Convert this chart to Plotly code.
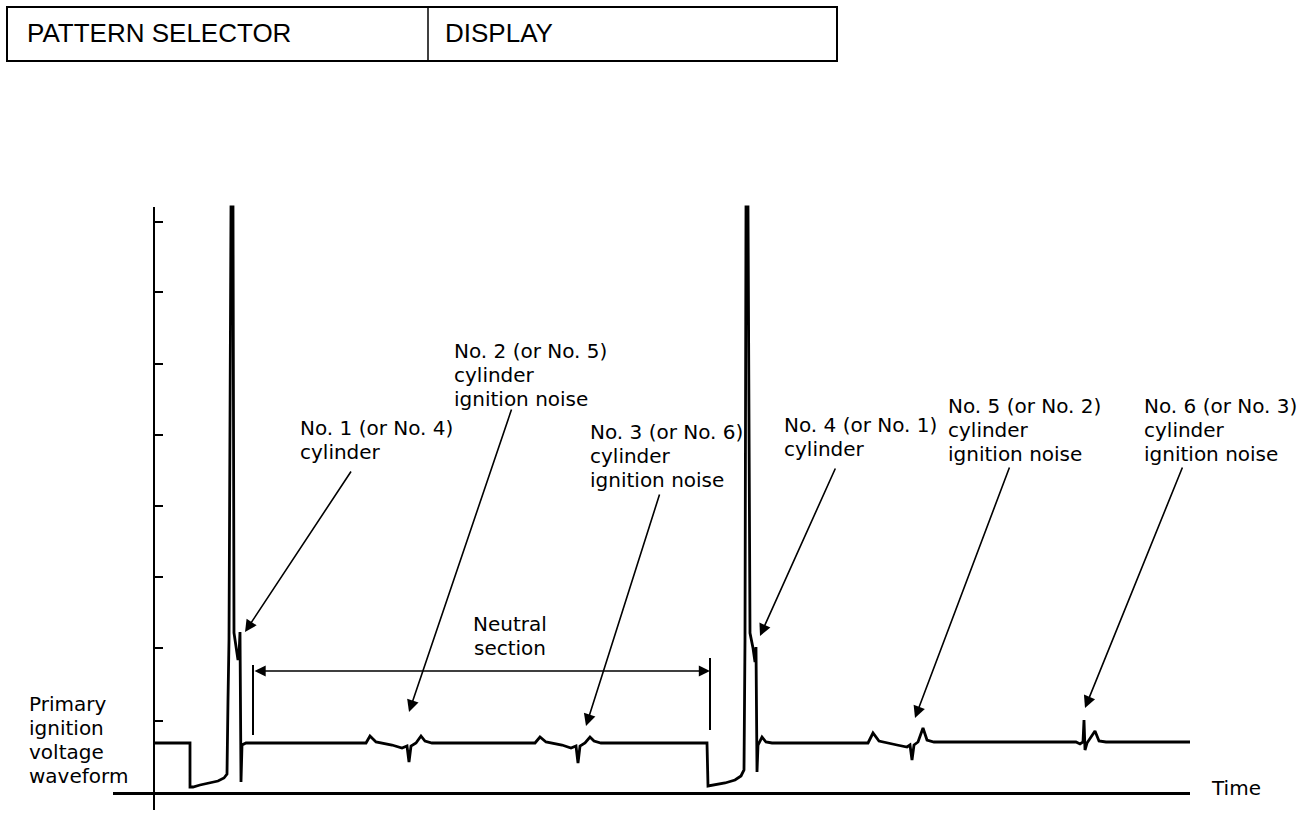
import plotly.graph_objects as go

# ---------------- data (time / voltage in arbitrary display units) ----------------
time = [0, 36, 36, 39, 46, 56, 64, 70, 73, 74, 75, 77, 79, 80, 82, 84, 85, 86, 87, 88, 92,
        212, 216, 222, 238, 248, 253, 255, 257, 262, 267, 271, 278,
        381, 386, 392, 408, 417, 422, 424, 426, 431, 436, 440, 447,
        553, 554, 561, 571, 581, 587, 590, 591, 592, 594, 596, 599, 601, 602, 603, 604, 608, 612, 618,
        714, 719, 725, 743, 753, 756, 758, 760, 764, 769, 773, 780,
        922, 926, 929, 930, 931, 933, 941, 945, 952, 1036]
voltage = [50, 50, 6, 6, 8, 10, 12, 15, 19, 93, 153, 586, 586, 160, 148, 133, 138, 161, 11, 48, 50,
           50, 57, 51, 48, 45, 47, 31, 47, 50, 57, 52, 50,
           50, 56, 51, 48, 45, 47, 30, 47, 50, 56, 52, 50,
           50, 7, 8, 10, 13, 17, 23, 153, 586, 586, 160, 145, 131, 146, 21, 48, 56, 51, 50,
           50, 60, 52, 48, 46, 48, 33, 48, 51, 65, 53, 51,
           51, 49, 51, 73, 43, 50, 62, 52, 51, 51]

voltage_ticks = [72, 145, 216, 287, 358, 429, 501, 571]

neutral_section = [99, 556]
neutral_marker_low = [58, 63]
neutral_marker_high = [128, 135]
neutral_arrow_level = 122

label_lines = [
    ["No. 1 (or No. 4)", "cylinder"],
    ["No. 2 (or No. 5)", "cylinder", "ignition noise"],
    ["No. 3 (or No. 6)", "cylinder", "ignition noise"],
    ["No. 4 (or No. 1)", "cylinder"],
    ["No. 5 (or No. 2)", "cylinder", "ignition noise"],
    ["No. 6 (or No. 3)", "cylinder", "ignition noise"],
]
label_target_time = [91, 255, 432, 606, 761, 931]
label_target_voltage = [161, 81, 67, 157, 75, 85]

y_title_lines = ["Primary", "ignition", "voltage", "waveform"]
neutral_lines = ["Neutral", "section"]
x_title = "Time"
table_cells = ["PATTERN SELECTOR", "DISPLAY"]

# ---------------- layout positions (separate from data) ----------------
label_pos = [(144, 365), (298, 442), (434, 361), (628, 368), (792, 387), (988, 387)]
label_tail = [(198, 323), (358, 385), (506, 300), (682, 326), (856, 327), (1029, 327)]
LINE_STEP = 24
FONT = "DejaVu Sans"
FS = 20

fig = go.Figure()

# waveform
fig.add_trace(go.Scatter(x=time, y=voltage, mode="lines",
                         line=dict(color="black", width=2.8),
                         hoverinfo="skip", showlegend=False))

# neutral section markers
mx, my = [], []
for t, lo, hi in zip(neutral_section, neutral_marker_low, neutral_marker_high):
    mx += [t, t, None]
    my += [lo, hi, None]
fig.add_trace(go.Scatter(x=mx, y=my, mode="lines", line=dict(color="black", width=2),
                         hoverinfo="skip", showlegend=False))

# dummy trace for drawn axes
fig.add_trace(go.Scatter(x=[0], y=[0], xaxis="x2", yaxis="y2", mode="markers",
                         marker=dict(opacity=0), hoverinfo="skip", showlegend=False))

annotations = []
# labels + arrows
for lines, (lx, ly), (tx, ty), ex, ey in zip(label_lines, label_pos, label_tail,
                                              label_target_time, label_target_voltage):
    for i, s in enumerate(lines):
        annotations.append(dict(x=lx, y=ly - i * LINE_STEP, text=s, showarrow=False,
                                xanchor="left", yanchor="middle",
                                font=dict(family=FONT, size=FS, color="black")))
    annotations.append(dict(x=ex, y=ey, ax=tx, ay=ty, axref="x", ayref="y", text="",
                            showarrow=True, arrowhead=2, arrowsize=1.5, arrowwidth=1.6,
                            arrowcolor="black", standoff=0, startstandoff=0))

# neutral section arrow and text
annotations.append(dict(x=neutral_section[1], y=neutral_arrow_level,
                        ax=neutral_section[0], ay=neutral_arrow_level,
                        axref="x", ayref="y", text="", showarrow=True,
                        arrowside="end+start", arrowhead=2, arrowsize=1.4,
                        arrowwidth=1.6, arrowcolor="black", standoff=0, startstandoff=0))
for i, s in enumerate(neutral_lines):
    annotations.append(dict(x=356, y=169 - i * LINE_STEP, text=s, showarrow=False,
                            xanchor="center", yanchor="middle",
                            font=dict(family=FONT, size=FS, color="black")))

# y title
for i, s in enumerate(y_title_lines):
    annotations.append(dict(x=-127, y=89 - i * LINE_STEP, text=s, showarrow=False,
                            xanchor="left", yanchor="middle",
                            font=dict(family=FONT, size=FS, color="black")))
# x title
annotations.append(dict(x=1055, y=5, text=x_title, showarrow=False,
                        xanchor="left", yanchor="middle",
                        font=dict(family=FONT, size=FS, color="black")))

# table
annotations.append(dict(x=-129, y=760, text=table_cells[0], showarrow=False,
                        xanchor="left", yanchor="middle",
                        font=dict(family="Liberation Sans", size=26, color="black")))
annotations.append(dict(x=289, y=760, text=table_cells[1], showarrow=False,
                        xanchor="left", yanchor="middle",
                        font=dict(family="Liberation Sans", size=26, color="black")))
shapes = [
    dict(type="rect", x0=-147, x1=683, y0=732, y1=786, xref="x", yref="y",
         line=dict(color="black", width=2), fillcolor="rgba(0,0,0,0)"),
    dict(type="line", x0=274, x1=274, y0=732, y1=786, xref="x", yref="y",
         line=dict(color="black", width=1.5)),
]

W, H = 1312, 818
fig.update_layout(
    width=W, height=H, autosize=False,
    margin=dict(l=0, r=0, t=0, b=0),
    paper_bgcolor="white", plot_bgcolor="rgba(0,0,0,0)",
    showlegend=False,
    xaxis=dict(range=[-154, 1158], domain=[0, 1], visible=False, fixedrange=True),
    yaxis=dict(range=[-25, 793], domain=[0, 1], visible=False, fixedrange=True),
    xaxis2=dict(domain=[113 / W, 1190 / W], range=[-41, 1036], anchor="free",
                position=25 / H, showline=True, linecolor="black", linewidth=2.5,
                showticklabels=False, ticks="", showgrid=False, zeroline=False,
                fixedrange=True),
    yaxis2=dict(domain=[8 / H, 611 / H], range=[-17, 586], anchor="free",
                position=154 / W, showline=True, linecolor="black", linewidth=2,
                ticks="inside", tickvals=voltage_ticks, ticklen=8, tickwidth=2,
                tickcolor="black", showticklabels=False, showgrid=False,
                zeroline=False, fixedrange=True, side="left"),
    annotations=annotations,
    shapes=shapes,
)

fig.write_html("out.html", config={"displayModeBar": False},
               post_script="document.body.style.margin='0';document.body.style.overflow='hidden';")
